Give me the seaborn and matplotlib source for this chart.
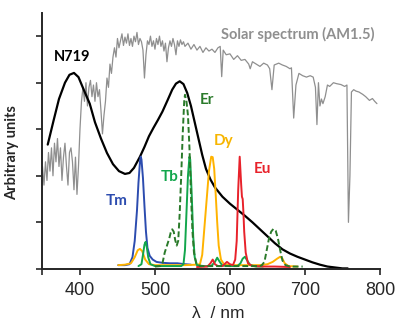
import matplotlib
matplotlib.use("Agg")
import matplotlib.pyplot as plt
import seaborn as sns

# solar spectrum (AM1.5), arbitrary units
solar_nm = [350, 352, 354, 356, 358, 360, 362, 364, 366, 368, 370, 372, 374, 376, 378,
            380, 382, 384, 386, 388, 390, 392, 394, 396, 398, 400, 402, 404, 406, 408,
            410, 412, 414, 416, 418, 420, 422, 424, 426, 428, 430, 432, 434, 436, 438,
            440, 442, 444, 446, 448, 450, 452, 454, 456, 458, 460, 462, 464, 466, 468,
            470, 472, 474, 476, 478, 480, 482, 484, 486, 488, 490, 492, 494, 496, 498,
            500, 502, 504, 506, 508, 510, 512, 514, 516, 518, 520, 522, 524, 526, 528,
            530, 532, 534, 536, 538, 540, 544, 548, 552, 556, 560, 564, 568, 572, 576,
            580, 584, 587, 589, 591, 595, 600, 605, 610, 615, 620, 625, 627, 630, 635,
            640, 645, 650, 653, 656, 659, 665, 670, 675, 680, 682, 685, 688, 692, 697,
            702, 707, 711, 714, 716, 718, 720, 722, 724, 727, 730, 733, 738, 742, 748,
            753, 756, 758, 760, 762, 765, 768, 772, 777, 781, 786, 790, 793, 796]
solar_val = [2.2, 1.8, 2.3, 1.9, 2.5, 2.1, 2.6, 2.0, 2.7, 2.3, 2.8, 2.2, 2.6, 1.9, 2.4,
             2.7, 2.2, 1.8, 2.5, 2.6, 2.3, 1.7, 2.4, 1.6, 2.2, 3.0, 3.6, 3.9, 3.6, 4.0,
             3.5, 3.9, 4.05, 3.7, 3.95, 3.6, 4.0, 3.7, 3.85, 3.4, 2.9, 3.3, 3.6, 4.1, 3.9,
             4.4, 4.2, 4.55, 4.75, 4.55, 4.95, 4.75, 4.9, 5.05, 4.8, 4.98, 4.85, 5.05, 4.8, 4.95,
             4.78, 5.0, 4.88, 5.08, 4.82, 4.95, 4.88, 4.7, 4.1, 4.6, 4.9, 4.82, 5.0, 4.78, 4.9,
             4.72, 4.95, 4.82, 5.0, 4.78, 4.9, 4.68, 4.85, 4.45, 4.75, 4.9, 4.78, 4.95, 4.82, 4.6,
             4.9, 4.78, 4.92, 4.82, 4.88, 4.78, 4.85, 4.72, 4.82, 4.7, 4.78, 4.65, 4.75, 4.68, 4.72,
             4.65, 4.75, 4.78, 4.13, 4.7, 4.6, 4.62, 4.5, 4.58, 4.48, 4.5, 4.4, 4.3, 4.45, 4.4,
             4.35, 4.42, 4.38, 4.3, 3.85, 4.38, 4.42, 4.38, 4.35, 4.3, 4.32, 3.24, 3.95, 4.2, 4.15,
             4.12, 4.15, 4.12, 3.9, 3.1, 4.0, 3.5, 3.65, 3.55, 3.7, 3.95, 3.92, 4.0, 3.98, 3.96,
             3.92, 3.95, 1.0, 2.0, 3.8, 3.85, 3.82, 3.8, 3.75, 3.7, 3.62, 3.66, 3.6, 3.55]

# N719 dye absorption
n719_nm = [357, 365, 372, 380, 386, 392, 398, 405, 413, 420, 428, 436, 444, 452, 460,
           466, 472, 480, 486, 492, 498, 504, 510, 517, 523, 528, 533, 538, 543, 548,
           553, 558, 563, 568, 574, 580, 590, 600, 610, 620, 630, 640, 650, 660, 670,
           680, 690, 700, 710, 720, 730, 740, 750, 757]
n719_val = [2.67, 3.2, 3.65, 4.0, 4.17, 4.21, 4.12, 3.85, 3.55, 3.15, 2.8, 2.49, 2.25, 2.1, 2.04,
            2.06, 2.17, 2.41, 2.62, 2.85, 3.03, 3.2, 3.38, 3.63, 3.85, 3.98, 4.03, 3.97, 3.78, 3.5,
            3.15, 2.8, 2.45, 2.15, 1.92, 1.75, 1.55, 1.4, 1.27, 1.14, 1.0, 0.85, 0.7, 0.55, 0.42,
            0.33, 0.26, 0.2, 0.14, 0.09, 0.05, 0.03, 0.01, 0.01]

# lanthanide emission spectra
tm_nm = [451, 460, 466, 470, 473, 476, 478, 480, 481, 482, 484, 486, 488, 490, 493,
         497, 502, 510, 520, 530, 540, 548]
tm_val = [0.08, 0.08, 0.1, 0.25, 0.6, 1.25, 1.85, 2.3, 2.41, 2.35, 1.95, 1.35, 0.8, 0.45, 0.28,
          0.2, 0.15, 0.13, 0.12, 0.12, 0.1, 0.09]

tb_nm = [478, 482, 484, 486, 487.5, 489, 491, 494, 500, 520, 535, 538, 540, 542, 544,
         546, 547, 549, 551, 553, 556, 565, 575, 580, 583, 586, 590, 600, 610, 614,
         617, 620, 623, 627, 635, 644]
tb_val = [0.06, 0.1, 0.3, 0.52, 0.58, 0.48, 0.25, 0.1, 0.06, 0.06, 0.06, 0.1, 0.4, 1.2, 2.0,
          2.41, 2.35, 1.6, 0.7, 0.25, 0.08, 0.06, 0.06, 0.15, 0.24, 0.16, 0.07, 0.06, 0.06, 0.12,
          0.22, 0.26, 0.18, 0.08, 0.05, 0.05]

er_nm = [500, 507, 510, 513, 516, 519, 521, 523, 525, 527, 529, 531, 533, 535, 537,
         539, 540, 542, 544, 546, 548, 550, 552, 555, 560, 580, 600, 620, 638, 642,
         646, 649, 652, 655, 658, 661, 664, 667, 670, 674, 680, 697]
er_val = [0.05, 0.06, 0.12, 0.35, 0.5, 0.65, 0.78, 0.85, 0.8, 0.62, 0.5, 0.6, 1.2, 2.0, 2.9,
          3.6, 3.74, 3.6, 3.3, 2.6, 1.6, 0.8, 0.35, 0.12, 0.06, 0.06, 0.06, 0.06, 0.06, 0.07,
          0.15, 0.4, 0.65, 0.8, 0.86, 0.82, 0.65, 0.4, 0.18, 0.08, 0.05, 0.05]

dy_nm = [451, 460, 468, 473, 477, 480, 483, 487, 492, 500, 520, 540, 555, 560, 563,
         566, 569, 572, 575, 577, 579, 581, 583, 585, 588, 592, 600, 620, 640, 650,
         657, 663, 667, 670, 673, 678, 690]
dy_val = [0.08, 0.09, 0.12, 0.25, 0.4, 0.43, 0.38, 0.2, 0.1, 0.08, 0.08, 0.08, 0.09, 0.1, 0.3,
          0.9, 1.5, 2.1, 2.41, 2.4, 2.15, 1.6, 1.0, 0.5, 0.2, 0.1, 0.08, 0.08, 0.08, 0.1,
          0.15, 0.22, 0.26, 0.22, 0.12, 0.06, 0.05]

eu_nm = [556, 570, 574, 577, 580, 584, 590, 596, 600, 604, 607, 609, 611, 613, 615,
         616, 617, 618, 619, 621, 624, 630, 645, 660, 680]
eu_val = [0.04, 0.05, 0.12, 0.2, 0.1, 0.06, 0.06, 0.15, 0.1, 0.08, 0.2, 0.6, 1.7, 2.41, 1.8,
          1.55, 1.5, 1.2, 0.8, 0.35, 0.12, 0.06, 0.05, 0.05, 0.04]

sns.set_style("ticks")
plt.rcParams["font.family"] = ["Liberation Sans", "DejaVu Sans"]

fig = plt.figure(figsize=(3.97, 3.22), dpi=100)
ax = fig.add_axes([0.107, 0.165, 0.850, 0.795])

sns.lineplot(x=solar_nm, y=solar_val, ax=ax, color="#8f8f8f", linewidth=0.9,
             estimator=None, sort=False, zorder=1)
sns.lineplot(x=n719_nm, y=n719_val, ax=ax, color="black", linewidth=1.6,
             estimator=None, sort=False, zorder=2)
sns.lineplot(x=tm_nm, y=tm_val, ax=ax, color="#2c4caf", linewidth=1.4,
             estimator=None, sort=False, zorder=3)
sns.lineplot(x=dy_nm, y=dy_val, ax=ax, color="#ffb300", linewidth=1.4,
             estimator=None, sort=False, zorder=3)
sns.lineplot(x=tb_nm, y=tb_val, ax=ax, color="#12a64c", linewidth=1.4,
             estimator=None, sort=False, zorder=4)
sns.lineplot(x=eu_nm, y=eu_val, ax=ax, color="#e8222b", linewidth=1.4,
             estimator=None, sort=False, zorder=4)
er_line = sns.lineplot(x=er_nm, y=er_val, ax=ax, color="#2a7a2a", linewidth=1.4,
                       estimator=None, sort=False, zorder=5)
er_line.lines[-1].set_dashes([3, 1.5])

ax.set_xlim(350, 800)
ax.set_ylim(0, 5.5)
ax.set_xticks([350, 400, 500, 600, 700, 800])
ax.set_xticklabels(["", "400", "500", "600", "700", "800"])
ax.set_yticks([0, 1, 2, 3, 4, 5])
ax.set_yticklabels([])
ax.tick_params(direction="out", length=4.5, width=1.2, labelsize=13, pad=5)
for s in ["top", "right"]:
    ax.spines[s].set_visible(False)
for s in ["left", "bottom"]:
    ax.spines[s].set_linewidth(1.4)

ax.set_xlabel("λ  / nm", fontsize=12.5)
ax.xaxis.set_label_coords(0.52, -0.145)
ax.set_ylabel("Arbitrary units", fontsize=10.5, fontweight="bold", family="Lato")
ax.yaxis.set_label_coords(-0.07, 0.455)

lab = dict(ha="center", va="center", fontweight="bold", family="Lato")
ax.text(390, 4.56, "N719", color="black", fontsize=10.5, **lab)
ax.text(691, 5.03, "Solar spectrum (AM1.5)", color="#8f8f8f", fontsize=10.5, **lab)
ax.text(569, 3.63, "Er", color="#2a7a2a", fontsize=11, **lab)
ax.text(592, 2.75, "Dy", color="#f7b500", fontsize=11, **lab)
ax.text(643, 2.15, "Eu", color="#e8222b", fontsize=11, **lab)
ax.text(449, 1.46, "Tm", color="#2c4caf", fontsize=11, **lab)
ax.text(520, 1.98, "Tb", color="#12a64c", fontsize=11, **lab)

fig.savefig("out.png", dpi=100)
